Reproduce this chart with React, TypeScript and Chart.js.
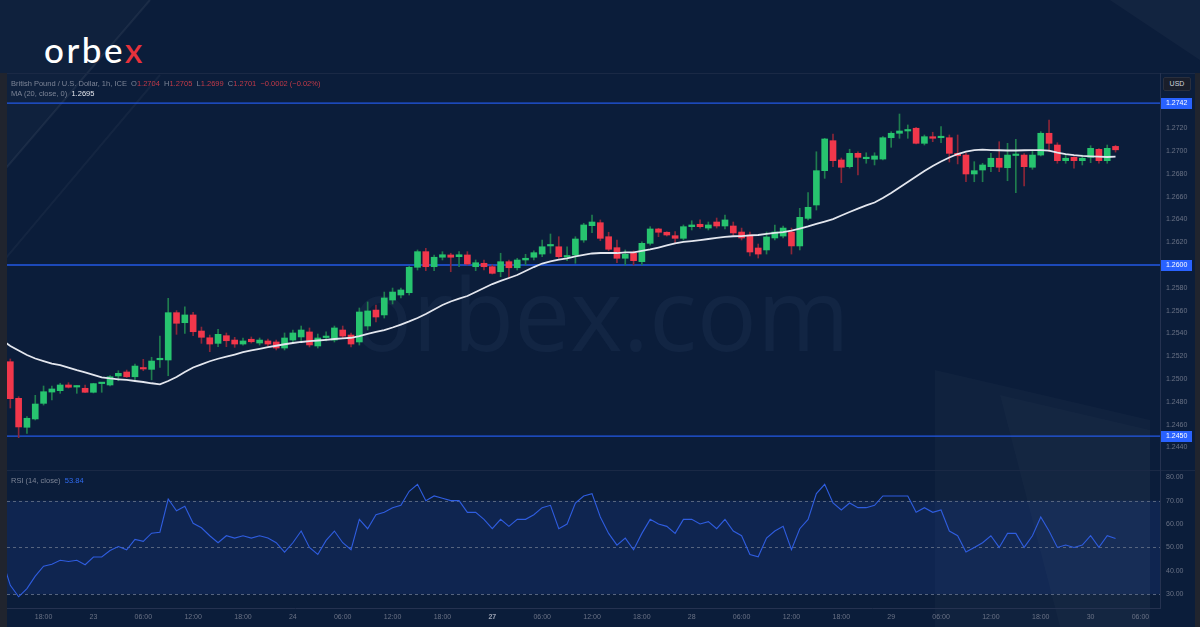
import React, { useEffect, useRef } from 'react';
import { Chart, registerables } from 'chart.js';

Chart.register(...registerables);

// ---------- data (GBP/USD, 1h candles) ----------
const OPEN = [
  1.25152, 1.24831, 1.24577, 1.2465, 1.24787, 1.24886, 1.24898, 1.24948, 1.2493, 1.24919,
  1.24884, 1.2496, 1.24948, 1.25027, 1.25062, 1.2502, 1.251, 1.25085, 1.25169, 1.25167,
  1.25582, 1.25494, 1.25562, 1.25421, 1.25362, 1.25313, 1.2538, 1.25342, 1.25307, 1.25349,
  1.25316, 1.25334, 1.25325, 1.25272, 1.25342, 1.25369, 1.25413, 1.2529, 1.25364, 1.25342,
  1.2543, 1.25386, 1.25325, 1.25465, 1.25605, 1.25562, 1.25693, 1.25737, 1.25757, 1.2598,
  1.26117, 1.25985, 1.26068, 1.26088, 1.26073, 1.26088, 1.25985, 1.26015, 1.25985, 1.25941,
  1.26029, 1.25976, 1.26044, 1.26068, 1.26096, 1.26167, 1.2616, 1.2607, 1.26088, 1.26219,
  1.26345, 1.26371, 1.26248, 1.26152, 1.26059, 1.26103, 1.26029, 1.2619, 1.26316, 1.26287,
  1.26257, 1.26234, 1.26336, 1.26357, 1.26324, 1.26377, 1.26342, 1.26342, 1.26289, 1.26263,
  1.26149, 1.26132, 1.26237, 1.26254, 1.26289, 1.26167, 1.26409, 1.26526, 1.26827, 1.2709,
  1.26921, 1.26862, 1.26979, 1.26932, 1.26927, 1.26929, 1.27116, 1.27155, 1.27175, 1.27199,
  1.27067, 1.27125, 1.27116, 1.27116, 1.26979, 1.26964, 1.26798, 1.26833, 1.26862, 1.26936,
  1.26853, 1.2696, 1.26964, 1.26857, 1.26964, 1.27155, 1.27052, 1.26915, 1.26944, 1.26915,
  1.26944, 1.27014, 1.26915, 1.2704,
];
const HIGH = [
  1.25176, 1.24845, 1.2467, 1.24857, 1.24939, 1.24939, 1.24963, 1.24968, 1.24943, 1.24948,
  1.24963, 1.24968, 1.25031, 1.25073, 1.25079, 1.25132, 1.25173, 1.25191, 1.25377, 1.25708,
  1.256, 1.25634, 1.25585, 1.25456, 1.25386, 1.25436, 1.25404, 1.25366, 1.2536, 1.25369,
  1.2536, 1.25351, 1.25342, 1.25404, 1.2543, 1.25465, 1.25448, 1.25395, 1.25413, 1.25465,
  1.25465, 1.25404, 1.25623, 1.25676, 1.25649, 1.25763, 1.25798, 1.25798, 1.25991, 1.26132,
  1.26146, 1.26088, 1.26117, 1.26103, 1.26117, 1.26117, 1.26044, 1.26044, 1.26, 1.26103,
  1.26044, 1.26059, 1.26094, 1.26125, 1.26219, 1.26272, 1.26248, 1.2616, 1.26248, 1.26366,
  1.26438, 1.26395, 1.26287, 1.26219, 1.26132, 1.26123, 1.26204, 1.26336, 1.26322, 1.26292,
  1.26292, 1.26351, 1.26388, 1.26395, 1.26377, 1.26412, 1.26438, 1.26377, 1.26324, 1.26289,
  1.26184, 1.26289, 1.26351, 1.26342, 1.26324, 1.26497, 1.26634, 1.26993, 1.27111, 1.27148,
  1.26938, 1.27015, 1.26993, 1.26984, 1.26984, 1.27125, 1.27169, 1.27324, 1.27228, 1.27207,
  1.2714, 1.27164, 1.27213, 1.2714, 1.2714, 1.26982, 1.26906, 1.26892, 1.26979, 1.27081,
  1.27067, 1.27102, 1.26978, 1.27008, 1.27169, 1.27271, 1.27072, 1.26964, 1.26951, 1.26964,
  1.27046, 1.27021, 1.27052, 1.2705,
];
const LOW = [
  1.24746, 1.24486, 1.24524, 1.24641, 1.24772, 1.24816, 1.24875, 1.24921, 1.24875, 1.2488,
  1.24878, 1.24884, 1.24939, 1.24985, 1.25014, 1.24992, 1.25073, 1.24993, 1.25103, 1.25029,
  1.25392, 1.25401, 1.2538, 1.25313, 1.2524, 1.25284, 1.25284, 1.25278, 1.25298, 1.25316,
  1.25298, 1.2529, 1.25255, 1.25255, 1.25325, 1.25334, 1.25281, 1.25272, 1.25334, 1.25325,
  1.2536, 1.25281, 1.25298, 1.2543, 1.255, 1.25535, 1.25658, 1.25711, 1.25737, 1.25956,
  1.2595, 1.2595, 1.26044, 1.25941, 1.25985, 1.26, 1.2595, 1.25956, 1.25921, 1.25897,
  1.25892, 1.25956, 1.26, 1.26044, 1.26073, 1.26103, 1.26059, 1.26038, 1.26015, 1.26199,
  1.26283, 1.26213, 1.26125, 1.2602, 1.26, 1.26, 1.26, 1.26175, 1.26248, 1.26254,
  1.2619, 1.26219, 1.26307, 1.26324, 1.26307, 1.26324, 1.26316, 1.26263, 1.26219, 1.26079,
  1.26061, 1.26096, 1.26219, 1.26237, 1.26096, 1.26132, 1.26395, 1.26482, 1.2676, 1.26862,
  1.26722, 1.2685, 1.26789, 1.26892, 1.26877, 1.26921, 1.27032, 1.27111, 1.27111, 1.27061,
  1.27052, 1.27081, 1.27072, 1.26903, 1.26886, 1.2673, 1.2673, 1.2673, 1.26818, 1.26818,
  1.26739, 1.26634, 1.26693, 1.26839, 1.26956, 1.26993, 1.26892, 1.26892, 1.26848, 1.26877,
  1.26897, 1.26892, 1.26892, 1.2699,
];
const CLOSE = [
  1.24828, 1.2458, 1.24656, 1.24781, 1.24889, 1.24913, 1.24948, 1.24928, 1.24939, 1.24884,
  1.2496, 1.24963, 1.2502, 1.2505, 1.2502, 1.25114, 1.25088, 1.25158, 1.25176, 1.25582,
  1.25489, 1.25562, 1.25415, 1.25366, 1.25307, 1.25392, 1.25336, 1.25307, 1.25334, 1.25327,
  1.25342, 1.25307, 1.25272, 1.2536, 1.25404, 1.2543, 1.25299, 1.2536, 1.25373, 1.25448,
  1.25377, 1.25307, 1.25588, 1.25597, 1.25544, 1.25711, 1.25763, 1.25781, 1.2598, 1.26117,
  1.25985, 1.26068, 1.2609, 1.26068, 1.2609, 1.26009, 1.2602, 1.25985, 1.25927, 1.26029,
  1.25976, 1.26044, 1.26059, 1.26108, 1.2616, 1.26171, 1.26073, 1.26076, 1.26228, 1.26351,
  1.26377, 1.26234, 1.26138, 1.26059, 1.26094, 1.26038, 1.2619, 1.26316, 1.26287, 1.26263,
  1.26234, 1.26336, 1.26351, 1.26336, 1.26351, 1.26342, 1.26395, 1.26281, 1.26237, 1.26114,
  1.26096, 1.26246, 1.26289, 1.26324, 1.26167, 1.26418, 1.26506, 1.26827, 1.27105, 1.26915,
  1.26857, 1.26979, 1.26944, 1.26936, 1.26956, 1.27116, 1.27155, 1.27175, 1.27184, 1.27067,
  1.27125, 1.27111, 1.27125, 1.26979, 1.26958, 1.26798, 1.26827, 1.26877, 1.26936, 1.26857,
  1.26964, 1.26966, 1.26862, 1.26964, 1.27155, 1.27067, 1.26915, 1.26936, 1.26915, 1.26936,
  1.27023, 1.26915, 1.27023, 1.2701,
];
const MA_BEFORE = 1.2534;
const MA20 = [
  1.2529, 1.2525, 1.25211, 1.2518, 1.25158, 1.25136, 1.25123, 1.25101, 1.25079, 1.25059,
  1.25036, 1.25014, 1.25005, 1.24998, 1.24992, 1.24983, 1.24974, 1.24963, 1.24954, 1.24983,
  1.25018, 1.25062, 1.25101, 1.25129, 1.25156, 1.25178, 1.25196, 1.25215, 1.25235, 1.25252,
  1.25265, 1.25279, 1.25292, 1.25305, 1.25316, 1.25325, 1.25332, 1.25338, 1.25344, 1.25351,
  1.25356, 1.25362, 1.25377, 1.25395, 1.25413, 1.2543, 1.25452, 1.25478, 1.25505, 1.25535,
  1.2557, 1.2561, 1.25649, 1.2568, 1.25706, 1.25728, 1.25763, 1.25798, 1.25833, 1.2586,
  1.25886, 1.25912, 1.25947, 1.25982, 1.26013, 1.26031, 1.26048, 1.26059, 1.26075, 1.26088,
  1.26101, 1.26105, 1.26105, 1.26105, 1.2611, 1.26111, 1.26123, 1.26136, 1.26153, 1.26171,
  1.26189, 1.26202, 1.2621, 1.26219, 1.26228, 1.26237, 1.26246, 1.26252, 1.26254, 1.26259,
  1.26263, 1.26272, 1.26281, 1.26289, 1.26302, 1.2632, 1.26338, 1.2636, 1.26381, 1.26403,
  1.26434, 1.26465, 1.26495, 1.26522, 1.26548, 1.26587, 1.26631, 1.2668, 1.26728, 1.26776,
  1.26824, 1.26868, 1.26907, 1.26943, 1.26973, 1.26995, 1.27008, 1.27011, 1.27008, 1.27006,
  1.27004, 1.27004, 1.27006, 1.27007, 1.27008, 1.27002, 1.26986, 1.26973, 1.26964, 1.26957,
  1.26953, 1.2695, 1.26947, 1.2695,
];
const RSI_BEFORE = 45;
const RSI14 = [
  33.8, 28.9, 32.4, 37.7, 42.0, 42.8, 44.5, 44.0, 44.5, 42.6,
  45.9, 45.9, 48.7, 50.4, 49.0, 53.4, 52.6, 56.1, 56.5, 70.7,
  65.7, 67.6, 60.3, 58.4, 55, 52, 55, 54, 55, 54,
  55, 54, 52, 48, 52, 57, 50, 47, 53, 57,
  52, 49, 62, 58, 64, 65, 67, 68, 74, 77,
  70, 72, 71, 70, 70, 65, 65, 62, 58, 62,
  59, 62, 62, 64, 67, 68, 58, 60, 69, 72,
  73, 63, 56, 51, 54, 49, 56, 62, 60, 59,
  56, 62, 62, 60, 61, 58, 62, 57, 55, 47,
  46, 54, 57, 59, 49, 58, 62, 73, 77, 69,
  66, 69, 67, 67, 68, 72, 72, 72, 72, 65,
  67, 65, 66, 57, 55, 48, 50, 52, 55, 50,
  56, 56, 50, 55, 63, 57, 50, 51, 50, 51,
  55, 50, 55, 53.84,
];

const PRICE_TICKS = [1.244, 1.246, 1.248, 1.25, 1.252, 1.254, 1.256, 1.258, 1.26, 1.262, 1.264, 1.266, 1.268, 1.27, 1.272];
const PRICE_LEVELS = [1.2742, 1.26, 1.245];
const RSI_TICKS = [30, 40, 50, 60, 70, 80];
const RSI_LEVELS = [70, 50, 30];
const RSI_BAND = [30, 70];
const TIME_TICK_INDEX = [4, 10, 16, 22, 28, 34, 40, 46, 52, 58, 64, 70, 76, 82, 88, 94, 100, 106, 112, 118, 124, 130, 136];
const TIME_LABELS = ['18:00', '23', '06:00', '12:00', '18:00', '24', '06:00', '12:00', '18:00', '27', '06:00', '12:00', '18:00', '28', '06:00', '12:00', '18:00', '29', '06:00', '12:00', '18:00', '30', '06:00'];
const LAST_CHANGE_TEXT = '\u22120.0002 (\u22120.02%)';

const X_MIN = -0.4;
const X_MAX = 138.35;
const PRICE_MIN = 1.242025;
const PRICE_MAX = 1.276835;
const RSI_MIN = 24.1;
const RSI_MAX = 83.1;

const FONT = '"Liberation Sans", Arial, sans-serif';
const UP = '#27c46f';
const DOWN = '#f1374b';
const UP_WICK = '#1f7d4e';
const DOWN_WICK = '#8c2638';
const AXIS_TEXT = '#6a7285';
const BORDER = '#253250';

const noPad = (s: any) => {
  s.paddingTop = 0;
  s.paddingBottom = 0;
  s.paddingLeft = 0;
  s.paddingRight = 0;
};

const priceLevelTags = {
  id: 'priceLevelTags',
  afterDraw(chart: any) {
    const { ctx } = chart;
    const ys = chart.scales.y;
    ctx.save();
    ctx.font = `7px ${FONT}`;
    ctx.textBaseline = 'middle';
    ctx.textAlign = 'left';
    for (const v of PRICE_LEVELS) {
      const py = Math.round(ys.getPixelForValue(v));
      ctx.fillStyle = '#2962ff';
      ctx.fillRect(ys.left + 1, py - 5, 31, 11);
      ctx.fillStyle = '#ffffff';
      ctx.fillText(v.toFixed(4), ys.left + 6, py + 0.5);
    }
    ctx.restore();
  },
};

const rsiBand = {
  id: 'rsiBand',
  beforeDatasetsDraw(chart: any) {
    const { ctx, chartArea } = chart;
    const ys = chart.scales.y;
    const top = ys.getPixelForValue(RSI_BAND[1]);
    const bot = ys.getPixelForValue(RSI_BAND[0]);
    ctx.save();
    ctx.fillStyle = 'rgba(45, 90, 230, 0.13)';
    ctx.fillRect(chartArea.left, top, chartArea.right - chartArea.left, bot - top);
    ctx.strokeStyle = '#56647e';
    ctx.setLineDash([3, 3]);
    ctx.lineWidth = 1;
    for (const lv of RSI_LEVELS) {
      const py = Math.round(ys.getPixelForValue(lv)) + 0.5;
      ctx.beginPath();
      ctx.moveTo(chartArea.left, py);
      ctx.lineTo(chartArea.right, py);
      ctx.stroke();
    }
    ctx.restore();
  },
};

export default function App() {
  const priceRef = useRef<HTMLCanvasElement>(null);
  const rsiRef = useRef<HTMLCanvasElement>(null);

  useEffect(() => {
    document.body.style.margin = '0';
    const idx = OPEN.map((_, i) => i);
    const up = idx.map((i) => CLOSE[i] >= OPEN[i]);

    const priceChart = new Chart(priceRef.current as HTMLCanvasElement, {
      type: 'bar',
      data: {
        datasets: [
          {
            type: 'line',
            data: [{ x: -1, y: MA_BEFORE }, ...MA20.map((v, i) => ({ x: i, y: v }))],
            borderColor: '#e3e6ee',
            borderWidth: 1.8,
            pointRadius: 0,
            tension: 0,
            order: 0,
          } as any,
          {
            type: 'bar',
            data: idx.map((i) => ({ x: i, y: [OPEN[i], CLOSE[i]] })),
            backgroundColor: idx.map((i) => (up[i] ? UP : DOWN)),
            barThickness: 6,
            grouped: false,
            minBarLength: 1.5,
            order: 1,
          } as any,
          {
            type: 'bar',
            data: idx.map((i) => ({ x: i, y: [LOW[i], HIGH[i]] })),
            backgroundColor: idx.map((i) => (up[i] ? UP_WICK : DOWN_WICK)),
            barThickness: 1,
            grouped: false,
            order: 2,
          } as any,
          ...PRICE_LEVELS.map((v) => ({
            type: 'line',
            data: [{ x: X_MIN, y: v }, { x: X_MAX, y: v }],
            borderColor: '#2359e6',
            borderWidth: 1.3,
            pointRadius: 0,
            order: 3,
          } as any)),
        ],
      },
      options: {
        animation: false,
        responsive: false,
        maintainAspectRatio: false,
        events: [],
        layout: { padding: 0, autoPadding: false },
        plugins: { legend: { display: false }, tooltip: { enabled: false } },
        scales: {
          x: { type: 'linear', min: X_MIN, max: X_MAX, offset: false, display: false },
          y: {
            type: 'linear',
            position: 'right',
            min: PRICE_MIN,
            max: PRICE_MAX,
            beginAtZero: false,
            afterFit: (s: any) => { s.width = 35; noPad(s); },
            afterBuildTicks: (s: any) => { s.ticks = PRICE_TICKS.map((v) => ({ value: v })); },
            grid: { display: false, drawTicks: false },
            border: { display: true, color: BORDER },
            ticks: {
              color: AXIS_TEXT,
              font: { size: 7, family: FONT },
              padding: 6,
              callback: (v: any) => Number(v).toFixed(4),
            },
          },
        },
      } as any,
      plugins: [priceLevelTags],
    });

    const rsiChart = new Chart(rsiRef.current as HTMLCanvasElement, {
      type: 'line',
      data: {
        datasets: [
          {
            data: [{ x: -1, y: RSI_BEFORE }, ...RSI14.map((v, i) => ({ x: i, y: v }))],
            borderColor: '#2f5ddf',
            borderWidth: 1.1,
            pointRadius: 0,
            tension: 0,
          } as any,
        ],
      },
      options: {
        animation: false,
        responsive: false,
        maintainAspectRatio: false,
        events: [],
        layout: { padding: 0, autoPadding: false },
        plugins: { legend: { display: false }, tooltip: { enabled: false } },
        scales: {
          x: {
            type: 'linear',
            min: X_MIN,
            max: X_MAX,
            offset: false,
            position: 'bottom',
            afterFit: (s: any) => { s.height = 19; noPad(s); },
            afterBuildTicks: (s: any) => { s.ticks = TIME_TICK_INDEX.map((v) => ({ value: v })); },
            grid: { display: false, drawTicks: false },
            border: { display: true, color: BORDER },
            ticks: {
              autoSkip: false,
              maxRotation: 0,
              minRotation: 0,
              padding: 5,
              color: (c: any) => (TIME_LABELS[c.index] === '27' ? '#9aa1b2' : AXIS_TEXT),
              font: (c: any) => ({ size: 7, family: FONT, weight: TIME_LABELS[c.index] === '27' ? 'bold' : 'normal' }),
              callback: (_v: any, i: number) => TIME_LABELS[i],
            },
          },
          y: {
            type: 'linear',
            position: 'right',
            min: RSI_MIN,
            max: RSI_MAX,
            afterFit: (s: any) => { s.width = 35; noPad(s); },
            afterBuildTicks: (s: any) => { s.ticks = RSI_TICKS.map((v) => ({ value: v })); },
            grid: { display: false, drawTicks: false },
            border: { display: true, color: BORDER },
            ticks: {
              color: AXIS_TEXT,
              font: { size: 7, family: FONT },
              padding: 6,
              callback: (v: any) => Number(v).toFixed(2),
            },
          },
        },
      } as any,
      plugins: [rsiBand],
    });

    return () => {
      priceChart.destroy();
      rsiChart.destroy();
    };
  }, []);

  const last = OPEN.length - 1;
  const redTxt = { color: '#c23a48' };
  const grayTxt = { color: '#7c8496' };

  return (
    <div style={{ position: 'fixed', left: 0, top: 0, width: 1200, height: 627, overflow: 'hidden', background: '#0b1d3a', fontFamily: FONT }}>
      <svg width={1200} height={627} style={{ position: 'absolute', left: 0, top: 0 }}>
        <polygon points="0,0 150,0 0,175" fill="rgba(255,255,255,0.018)" />
        <line x1={150} y1={0} x2={0} y2={175} stroke="rgba(255,255,255,0.06)" strokeWidth={2} />
        <line x1={160} y1={75} x2={0} y2={265} stroke="rgba(255,255,255,0.04)" strokeWidth={2} />
        <polygon points="935,370 1150,420 1150,627 935,627" fill="rgba(255,255,255,0.025)" />
        <polygon points="1000,395 1150,430 1150,627 1060,627" fill="rgba(255,255,255,0.02)" />
        <polygon points="1110,0 1200,0 1200,60" fill="rgba(255,255,255,0.03)" />
      </svg>
      <div style={{ position: 'absolute', left: 44, top: 32, fontFamily: 'Lato, sans-serif', fontWeight: 500, fontSize: 35, lineHeight: '35px', letterSpacing: 2.5, color: '#ffffff' }}>
        orbe<span style={{ color: '#e8323c' }}>x</span>
      </div>
      <div style={{ position: 'absolute', left: 352, top: 262, fontFamily: '"Open Sans", sans-serif', fontSize: 100, lineHeight: '100px', color: 'rgba(140,170,220,0.06)', whiteSpace: 'nowrap' }}>
        orbex.com
      </div>
      <div style={{ position: 'absolute', left: 0, top: 73, width: 7, height: 554, background: '#20242e' }} />
      <div style={{ position: 'absolute', left: 1195, top: 73, width: 5, height: 554, background: '#20242e' }} />
      <div style={{ position: 'absolute', left: 7, top: 73, width: 1188, height: 1, background: '#1a2945' }} />
      <div style={{ position: 'absolute', left: 7, top: 470, width: 1188, height: 1, background: '#1a2945' }} />
      <canvas ref={priceRef} width={1188} height={397} style={{ position: 'absolute', left: 7, top: 73, width: 1188, height: 397 }} />
      <canvas ref={rsiRef} width={1188} height={157} style={{ position: 'absolute', left: 7, top: 470, width: 1188, height: 157 }} />
      <div style={{ position: 'absolute', left: 11, top: 79, fontSize: 7.5, lineHeight: '10px', whiteSpace: 'nowrap', ...grayTxt }}>
        British Pound / U.S. Dollar, 1h, ICE&nbsp;&nbsp;O<span style={redTxt}>{OPEN[last].toFixed(4)}</span>&nbsp;&nbsp;H<span style={redTxt}>{HIGH[last].toFixed(4)}</span>&nbsp;&nbsp;L<span style={redTxt}>{LOW[last].toFixed(4)}</span>&nbsp;&nbsp;C<span style={redTxt}>{CLOSE[last].toFixed(4)}</span>&nbsp;&nbsp;<span style={redTxt}>{LAST_CHANGE_TEXT}</span>
      </div>
      <div style={{ position: 'absolute', left: 11, top: 89, fontSize: 7.5, lineHeight: '10px', whiteSpace: 'nowrap', ...grayTxt }}>
        MA (20, close, 0)&nbsp;&nbsp;<span style={{ color: '#e6e8ee' }}>{MA20[last].toFixed(4)}</span>
      </div>
      <div style={{ position: 'absolute', left: 11, top: 476, fontSize: 7.5, lineHeight: '10px', whiteSpace: 'nowrap', ...grayTxt }}>
        RSI (14, close)&nbsp;&nbsp;<span style={{ color: '#2f6bf0' }}>{RSI14[last].toFixed(2)}</span>
      </div>
      <div style={{ position: 'absolute', left: 1163, top: 77, width: 28, height: 14, background: '#1a1e2b', border: '1px solid #2a2f3d', borderRadius: 2, boxSizing: 'border-box', color: '#d1d4dc', fontSize: 7, lineHeight: '12px', textAlign: 'center' }}>
        USD
      </div>
    </div>
  );
}
